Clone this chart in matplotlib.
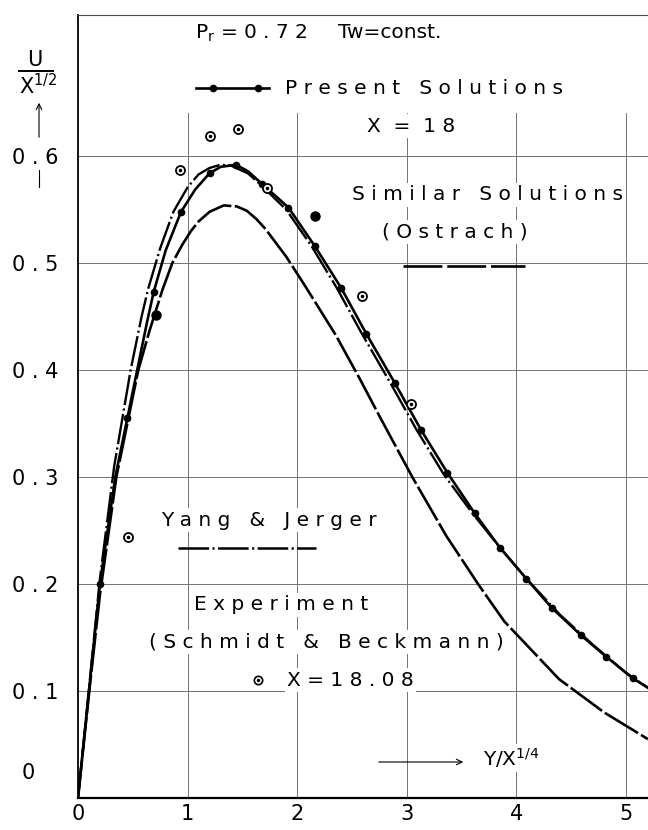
import matplotlib
matplotlib.use('Agg')
import matplotlib.pyplot as plt
from matplotlib.lines import Line2D

plt.rcParams['font.family'] = ['DejaVu Sans']
plt.rcParams['lines.scale_dashes'] = False
plt.rcParams['mathtext.default'] = 'regular'

# present solutions, X = 18 (solid with dots)
present_x = [0, 0.1, 0.2, 0.34, 0.45, 0.53, 0.63, 0.69, 0.8, 0.94, 1.07, 1.2, 1.3,
             1.44, 1.55, 1.68, 1.92, 2.16, 2.4, 2.63, 2.89, 3.13, 3.37, 3.62, 3.85,
             4.09, 4.32, 4.59, 4.82, 5.06, 5.2]
present_y = [0, 0.1, 0.2, 0.3, 0.355, 0.395, 0.445, 0.473, 0.512, 0.548, 0.569, 0.584, 0.590,
             0.592, 0.586, 0.574, 0.552, 0.516, 0.477, 0.434, 0.388, 0.344, 0.304, 0.266, 0.234,
             0.205, 0.178, 0.152, 0.132, 0.112, 0.103]
present_marks = [0.2, 0.45, 0.69, 0.94, 1.2, 1.44, 1.68, 1.92, 2.16, 2.4, 2.63, 2.89,
                 3.13, 3.37, 3.62, 3.85, 4.09, 4.32, 4.59, 4.82, 5.06]

# similar solutions (Ostrach), long dashes
ostrach_x = [0, 0.1, 0.2, 0.35, 0.55, 0.65, 0.77, 0.86, 0.95, 1.03, 1.1, 1.2, 1.33, 1.45,
             1.54, 1.63, 1.71, 1.9, 2.07, 2.35, 2.57, 2.75, 3.05, 3.36, 3.65, 3.89, 4.39,
             4.8, 5.2]
ostrach_y = [0, 0.097, 0.19, 0.30, 0.40, 0.436, 0.475, 0.500, 0.517, 0.530, 0.539, 0.548, 0.554,
             0.553, 0.549, 0.541, 0.532, 0.506, 0.479, 0.433, 0.392, 0.357, 0.300, 0.245, 0.200,
             0.165, 0.111, 0.080, 0.055]

# Yang & Jerger, dash-dot
yj_x = [0, 0.1, 0.2, 0.33, 0.48, 0.58, 0.64, 0.75, 0.87, 1.0, 1.1, 1.2, 1.3, 1.4, 1.55,
        1.68, 1.9, 2.13, 2.36, 2.59, 2.85, 3.09, 3.34, 3.6, 3.85, 4.1, 4.4, 4.7, 5.0, 5.2]
yj_y = [0, 0.102, 0.205, 0.31, 0.40, 0.45, 0.476, 0.514, 0.548, 0.571, 0.583, 0.589, 0.592, 0.591, 0.584,
        0.572, 0.550, 0.516, 0.477, 0.434, 0.388, 0.344, 0.302, 0.266, 0.234, 0.204, 0.171, 0.143, 0.117, 0.103]

# experiment (Schmidt & Beckmann), X = 18.08
exp_x = [0.455, 0.93, 1.2, 1.46, 1.72, 2.59, 3.04]
exp_y = [0.244, 0.587, 0.619, 0.625, 0.570, 0.469, 0.368]
exp_dark_x = [0.715, 2.16]
exp_dark_y = [0.452, 0.544]

xticks = [0, 1, 2, 3, 4, 5]
yticks = [0.1, 0.2, 0.3, 0.4, 0.5, 0.6]
ytick_labels = ['0 . 1', '0 . 2', '0 . 3', '0 . 4', '0 . 5', '0 . 6']

W, H = 648, 830


def fx(px):
    return px / W


def fy(py):
    return 1 - py / H


def spaced(s, gap='   '):
    return gap.join(' '.join(word) for word in s.split(' '))


fig = plt.figure(figsize=(6.48, 8.30), dpi=100)
ax = fig.add_axes([fx(78), fy(798), fx(648) - fx(78), fy(15) - fy(798)])
ax.set_xlim(0, 5.2)
ax.set_ylim(0, 0.732)

for v in yticks:
    ax.axhline(v, color='0.45', lw=0.7, zorder=1)
for v in xticks[1:]:
    ax.plot([v, v], [0, 0.64], color='0.45', lw=0.7, zorder=1)

ax.plot(ostrach_x, ostrach_y, color='black', lw=1.9, dashes=(28, 2.5), zorder=3)
ax.plot(yj_x, yj_y, color='black', lw=1.7, dashes=(22, 2.5, 1.5, 2.5), zorder=3)
idx = [present_x.index(v) for v in present_marks]
ax.plot(present_x, present_y, color='black', lw=1.9, marker='o', ms=4.5,
        markevery=idx, zorder=4)
ax.plot(exp_x, exp_y, ls='none', marker='o', ms=6.5, mfc='white', mec='black',
        mew=1.3, zorder=5)
ax.plot(exp_x, exp_y, ls='none', marker='o', ms=1.6, color='black', zorder=6)
ax.plot(exp_dark_x, exp_dark_y, ls='none', marker='o', ms=6.5, color='black', zorder=5)

ax.spines['right'].set_visible(False)
ax.spines['top'].set_linewidth(0.8)
ax.spines['top'].set_color('0.3')
ax.spines['left'].set_linewidth(1.3)
ax.spines['bottom'].set_linewidth(1.6)

ax.set_xticks(xticks)
ax.set_xticklabels([str(v) for v in xticks])
ax.set_yticks(yticks)
ax.set_yticklabels(ytick_labels)
ax.tick_params(length=0, labelsize=15)
ax.tick_params(axis='y', pad=14)
ax.tick_params(axis='x', pad=4)
for lab in ax.get_yticklabels():
    lab.set_bbox(dict(facecolor='white', edgecolor='none', pad=1))
ax.text(fx(28), fy(773), '0', transform=fig.transFigure, fontsize=15,
        ha='center', va='center')

box = dict(facecolor='white', edgecolor='none', pad=1.5)
tkw = dict(transform=fig.transFigure, fontsize=14.5, va='center', zorder=2, bbox=box)

# y-axis label U / X^(1/2)
ax.text(fx(35), fy(60), 'U', transform=fig.transFigure, fontsize=15,
        ha='center', va='center', clip_on=False)
ax.add_line(Line2D([fx(19), fx(53)], [fy(71), fy(71)], transform=fig.transFigure,
                   color='black', lw=1.4, clip_on=False))
ax.text(fx(19), fy(86), r'X$^{1/2}$', transform=fig.transFigure, fontsize=15,
        ha='left', va='center', clip_on=False)
ax.annotate('', xy=(fx(39), fy(100)), xytext=(fx(39), fy(140)), xycoords='figure fraction',
            arrowprops=dict(arrowstyle='->', lw=0.8, color='black'))
ax.add_line(Line2D([fx(39), fx(39)], [fy(170), fy(187)], transform=fig.transFigure,
                   color='black', lw=0.8, clip_on=False))

ax.text(fx(195), fy(33), r'P$_{r}$ = 0 . 7 2', ha='left', **tkw)
ax.text(fx(338), fy(33), 'Tw=const.', ha='left', **tkw)

ax.add_line(Line2D([fx(196), fx(269)], [fy(88), fy(88)], transform=fig.transFigure,
                   color='black', lw=1.9))
ax.add_line(Line2D([fx(213), fx(258)], [fy(88), fy(88)], transform=fig.transFigure,
                   ls='none', marker='o', ms=4.5, color='black'))
ax.text(fx(285), fy(88), spaced('Present Solutions'), ha='left', **tkw)
ax.text(fx(411), fy(126), 'X  =  1 8', ha='center', **tkw)

ax.text(fx(352), fy(195), spaced('Similar Solutions'), ha='left', **tkw)
ax.text(fx(455), fy(232), '( O s t r a c h )', ha='center', **tkw)
ax.add_line(Line2D([fx(403), fx(525)], [fy(266), fy(266)], transform=fig.transFigure,
                   color='black', lw=1.9, dashes=(28, 3.5)))

ax.text(fx(161), fy(520), spaced('Yang & Jerger'), ha='left', **tkw)
ax.add_line(Line2D([fx(178), fx(316)], [fy(548), fy(548)], transform=fig.transFigure,
                   color='black', lw=1.8, dashes=(22, 2.5, 1.5, 2.5)))

ax.text(fx(194), fy(605), spaced('Experiment'), ha='left', **tkw)
ax.text(fx(149), fy(642), '( ' + spaced('Schmidt & Beckmann') + ' )', ha='left', **tkw)
ax.add_line(Line2D([fx(258)], [fy(680)], transform=fig.transFigure, ls='none',
                   marker='o', ms=6, mfc='white', mec='black', mew=1.2))
ax.add_line(Line2D([fx(258)], [fy(680)], transform=fig.transFigure, ls='none',
                   marker='o', ms=1.5, color='black'))
ax.text(fx(287), fy(680), 'X = 1 8 . 0 8', ha='left', **tkw)

ax.annotate('', xy=(fx(466), fy(762)), xytext=(fx(376), fy(762)), xycoords='figure fraction',
            arrowprops=dict(arrowstyle='->', lw=0.8, color='black'))
ax.text(fx(483), fy(758), r'Y/X$^{1/4}$', ha='left', **tkw)

fig.savefig('out.png', dpi=100)
